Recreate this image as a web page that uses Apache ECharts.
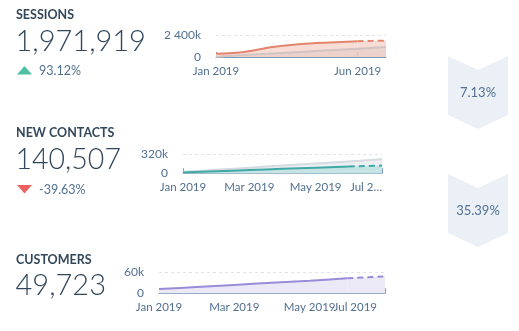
<!DOCTYPE html>
<html>
<head>
<meta charset="utf-8">
<script src="https://cdn.jsdelivr.net/npm/echarts@6/dist/echarts.min.js"></script>
<style>
  html, body { margin: 0; padding: 0; background: #fff; }
  #chart { width: 519px; height: 331px; }
</style>
</head>
<body>
<div id="chart"></div>
<script>
// Funnel metrics
const metricNames = ['SESSIONS', 'NEW CONTACTS', 'CUSTOMERS'];
const metricTotals = ['1,971,919', '140,507', '49,723'];
const metricChanges = ['93.12%', '-39.63%'];
const conversionRates = ['7.13%', '35.39%'];

// Monthly categories
const months = ['Jan 2019', 'Feb 2019', 'Mar 2019', 'Apr 2019', 'May 2019', 'Jun 2019', 'Jul 2019'];

// Series values (current period and comparison period)
const sessions = [60000, 95000, 185000, 240000, 270000, 295000, 305000];
const sessionsPrev = [5000, 35000, 65000, 95000, 125000, 155000, 185000];
const contacts = [15000, 35000, 55000, 75000, 95000, 115000, 130000];
const contactsPrev = [25000, 60000, 95000, 130000, 165000, 200000, 235000];
const customers = [12000, 18000, 24000, 30000, 36000, 43000, 48000];

// Axis maxima / tick labels
const yMax = [400000, 320000, 60000];
const yTopLabels = ['2 400k', '320k', '60k'];

const FONT = 'Lato, "Open Sans", sans-serif';
const SLATE = '#33475b';
const MUTED = '#516f90';
const AXIS = '#7c98b6';

// split a series into a solid part and a dashed final segment
function solidPart(arr) { return arr.map((v, i) => (i < arr.length - 1 ? v : '-')); }
function dashedPart(arr) { return arr.map((v, i) => (i >= arr.length - 2 ? v : '-')); }

const grids = [
  { left: 216, right: 133, top: 35.5, height: 21.5 },
  { left: 183, right: 137, top: 154.3, height: 19 },
  { left: 159, right: 134, top: 272.3, height: 21 }
];

// which month indexes carry a tick / label on each axis
const shownMonths = [[0, 5], [0, 2, 4, 6], [0, 2, 4, 6]];

function xAxisFor(idx, lastLabel, lastGap) {
  const shown = shownMonths[idx];
  return {
    gridIndex: idx,
    type: 'category',
    data: months,
    boundaryGap: false,
    axisLine: { lineStyle: { color: AXIS, width: 1 } },
    axisTick: {
      show: true, inside: true, length: 5,
      interval: function (i) { return shown.indexOf(i) >= 0; },
      lineStyle: { color: AXIS }
    },
    axisLabel: {
      interval: 0,
      color: MUTED,
      fontFamily: FONT,
      fontSize: 11.5,
      margin: 8,
      hideOverlap: false,
      alignMaxLabel: lastLabel ? 'right' : null,
      rich: {
        last: { color: MUTED, fontFamily: FONT, fontSize: 11.5 },
        gap: { width: lastGap || 0, fontSize: 11.5 }
      },
      formatter: function (v, i) {
        if (shown.indexOf(i) < 0) return '';
        if (i === months.length - 1 && lastLabel) {
          return '{last|' + lastLabel + '}' + (lastGap ? '{gap| }' : '');
        }
        return v;
      }
    },
    splitLine: { show: false }
  };
}

function yAxisFor(idx) {
  return {
    gridIndex: idx,
    type: 'value',
    min: 0,
    max: yMax[idx],
    interval: yMax[idx],
    axisLine: { show: false },
    axisTick: { show: false },
    axisLabel: {
      color: MUTED,
      fontFamily: FONT,
      fontSize: 12,
      margin: 15,
      formatter: function (v) { return v === 0 ? '0' : yTopLabels[idx]; }
    },
    splitLine: { show: true, lineStyle: { color: '#dfe3eb', type: [3, 3], width: 1 } }
  };
}

function lineSeries(idx, data, color, areaColor, dashed, z) {
  return {
    type: 'line',
    xAxisIndex: idx,
    yAxisIndex: idx,
    data: data,
    smooth: 0.3,
    symbol: 'none',
    z: z,
    lineStyle: { color: color, width: 2, type: dashed ? [6, 4] : 'solid' },
    areaStyle: { color: areaColor, opacity: 1 },
    silent: true
  };
}

function chevron(top, text) {
  const l = 448, r = 508, c = 478;
  return [
    {
      type: 'polygon',
      shape: { points: [[l, top], [c, top + 14], [r, top], [r, top + 59], [c, top + 73], [l, top + 59]] },
      style: { fill: '#eaf0f6' },
      silent: true
    },
    {
      type: 'text',
      x: c, y: top + 37,
      style: { text: text, font: '13px ' + FONT, fill: MUTED, textAlign: 'center', textVerticalAlign: 'middle' },
      silent: true
    }
  ];
}

function label(x, y, text, font, fill) {
  return {
    type: 'text', x: x, y: y,
    style: { text: text, font: font, fill: fill, textAlign: 'left', textVerticalAlign: 'middle' },
    silent: true
  };
}

const graphics = [
  label(16, 14.5, metricNames[0], 'bold 12.5px ' + FONT, SLATE),
  label(15.5, 42, metricTotals[0], '300 29px ' + FONT, SLATE),
  { type: 'polygon', shape: { points: [[17, 74.5], [32, 74.5], [24.5, 66]] }, style: { fill: '#4fbfa2' }, silent: true },
  label(39, 70.5, metricChanges[0], '12.5px ' + FONT, MUTED),

  label(16, 133, metricNames[1], 'bold 12.5px ' + FONT, SLATE),
  label(15.5, 160, metricTotals[1], '300 28.5px ' + FONT, SLATE),
  { type: 'polygon', shape: { points: [[17, 185], [32, 185], [24.5, 193.5]] }, style: { fill: '#ee6161' }, silent: true },
  label(39, 189.5, metricChanges[1], '12.5px ' + FONT, MUTED),

  label(16, 260, metricNames[2], 'bold 12.5px ' + FONT, SLATE),
  label(15.5, 286, metricTotals[2], '300 29px ' + FONT, SLATE)
].concat(chevron(56, conversionRates[0]), chevron(174, conversionRates[1]));

const option = {
  animation: false,
  backgroundColor: '#ffffff',
  grid: grids,
  xAxis: [
    xAxisFor(0, null, 0),
    xAxisFor(1, 'Jul 2…', 0),
    xAxisFor(2, 'Jul 2019', 8)
  ],
  yAxis: [yAxisFor(0), yAxisFor(1), yAxisFor(2)],
  series: [
    // Sessions
    lineSeries(0, solidPart(sessions), '#e3846d', '#f7ddd6', false, 2),
    lineSeries(0, dashedPart(sessions), '#e3846d', '#f7ddd6', true, 2),
    lineSeries(0, sessionsPrev, '#d3c3c1', 'rgba(190,160,160,0.18)', false, 3),
    // New contacts
    lineSeries(1, contactsPrev, '#d6dbe1', '#edf0f3', false, 2),
    lineSeries(1, solidPart(contacts), '#3fa9a6', '#c5e4e3', false, 3),
    lineSeries(1, dashedPart(contacts), '#3fa9a6', '#c5e4e3', true, 3),
    // Customers
    lineSeries(2, solidPart(customers), '#9a8bd9', '#ece9f7', false, 2),
    lineSeries(2, dashedPart(customers), '#9a8bd9', '#ece9f7', true, 2)
  ],
  graphic: graphics
};

const chart = echarts.init(document.getElementById('chart'), null, { renderer: 'canvas' });
chart.setOption(option);
</script>
</body>
</html>
